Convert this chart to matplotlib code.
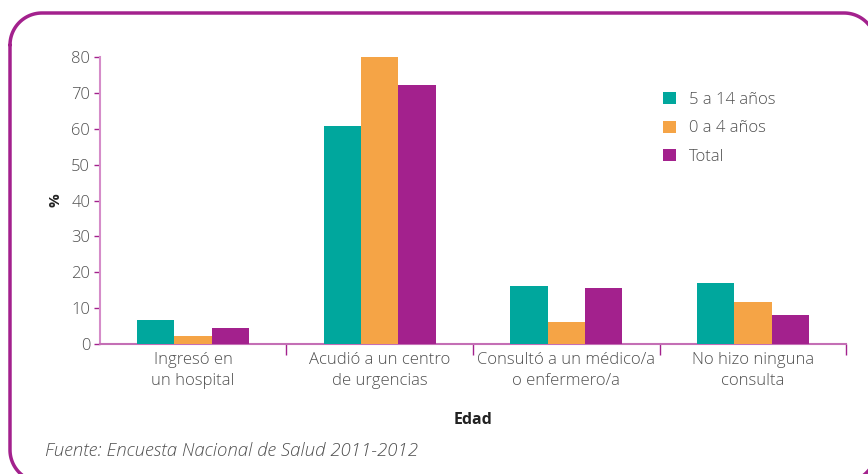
import numpy as np
import matplotlib
matplotlib.use('Agg')
import matplotlib.pyplot as plt

# Datos
categorias = ['Ingresó en\nun hospital', 'Acudió a un centro\nde urgencias',
              'Consultó a un médico/a\no enfermero/a', 'No hizo ninguna\nconsulta']
series = ['5 a 14 años', '0 a 4 años', 'Total']
valores_5_14 = [6.8, 60.8, 16.1, 17.0]
valores_0_4 = [2.4, 80.0, 6.3, 11.6]
valores_total = [4.4, 72.3, 15.5, 8.2]

cores = ['#00a79d', '#f5a446', '#a3218d']
cinza = '#505050'
roxo = '#a3218d'

plt.rcParams['font.family'] = ['Open Sans', 'DejaVu Sans']
plt.rcParams['font.weight'] = 'light'


def marco_redondeado(ax, x0, y0, x1, y1, r):
    """contorno de rectangulo con esquinas redondeadas (en pixeles)"""
    t = np.linspace(0, np.pi / 2, 30)
    xs, ys = [], []
    # esquina sup. izq., sup. der., inf. der., inf. izq. (y hacia abajo)
    for cx, cy, a0 in [(x0 + r, y0 + r, np.pi), (x1 - r, y0 + r, 1.5 * np.pi),
                       (x1 - r, y1 - r, 0), (x0 + r, y1 - r, 0.5 * np.pi)]:
        xs.extend(cx + r * np.cos(a0 + t))
        ys.extend(cy + r * np.sin(a0 + t))
    xs.append(xs[0])
    ys.append(ys[0])
    ax.plot(xs, ys, color=roxo, lw=2.5, solid_capstyle='round')


fig = plt.figure(figsize=(8.68, 4.74), dpi=100)

bg = fig.add_axes([0, 0, 1, 1], zorder=-1)
bg.set_xlim(0, 868)
bg.set_ylim(474, 0)
bg.axis('off')
marco_redondeado(bg, 10, 13, 876, 482, 32)

ax = fig.add_axes([0.115, 0.274, 0.86, 0.606])

x = np.arange(len(categorias))
w = 0.2
for k, (vals, nome) in enumerate(zip([valores_5_14, valores_0_4, valores_total], series)):
    ax.bar(x + (k - 1) * w, vals, width=w, color=cores[k], label=nome, zorder=3)

ax.set_xlim(-0.5, 3.5)
ax.set_ylim(0, 80)
ax.set_yticks(np.arange(0, 81, 10))
ax.set_xticks(x)
ax.set_xticklabels(categorias, fontsize=12, color=cinza, linespacing=1.35)
ax.set_xticks(np.arange(0.5, 3.6, 1), minor=True)
ax.tick_params(axis='x', which='major', length=0, pad=6)
ax.tick_params(axis='x', which='minor', length=8, width=1, color=roxo)
ax.tick_params(axis='y', length=4, width=1, color=roxo, labelsize=12,
               labelcolor=cinza, pad=3)

for s in ['top', 'right']:
    ax.spines[s].set_visible(False)
ax.spines['left'].set_color('#d58cc9')
ax.spines['left'].set_linewidth(1.5)
ax.spines['bottom'].set_color('#c46fb5')
ax.spines['bottom'].set_linewidth(1.5)

ax.set_ylabel('%', fontsize=11, fontweight='bold', color='#222222', labelpad=6)
ax.set_xlabel('Edad', fontsize=11.5, fontweight='bold', color='#222222', labelpad=17)

leg = ax.legend(loc='upper left', bbox_to_anchor=(0.735, 0.93), frameon=False,
                fontsize=12, handlelength=0.75, handleheight=0.75,
                handletextpad=0.8, labelspacing=0.75)
for t in leg.get_texts():
    t.set_color(cinza)

fig.text(0.052, 0.038, 'Fuente: Encuesta Nacional de Salud 2011-2012',
         fontsize=13.4, style='italic', color=cinza)

fig.savefig('out.png', dpi=100)
